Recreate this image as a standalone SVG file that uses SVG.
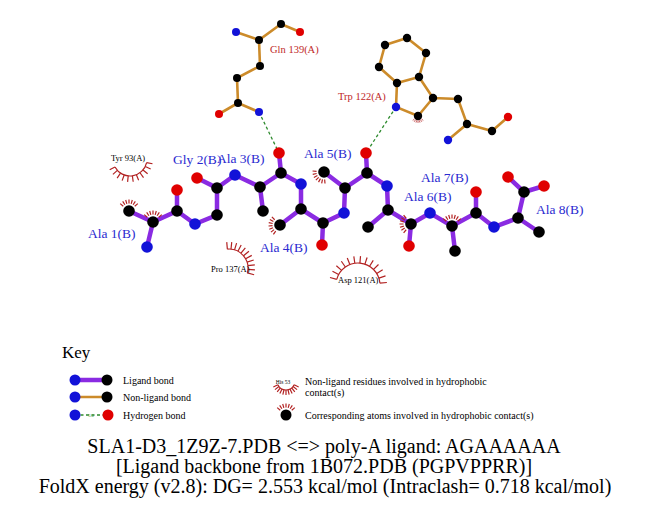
<svg xmlns="http://www.w3.org/2000/svg" xmlns:xlink="http://www.w3.org/1999/xlink" width="651" height="511" viewBox="0 0 651 511">
<style>
.lb{stroke:#8A2BE2;stroke-width:4.5;stroke-linecap:round;fill:none}
.nb{stroke:#CC8B2A;stroke-width:2.6;stroke-linecap:round;fill:none}
.hb{stroke:#2E8B2E;stroke-width:1.3;stroke-dasharray:3 2.5;fill:none}
.hp{stroke:#B22222;stroke-width:1.2;fill:none}
.C{fill:#000}
.N{fill:#1212D8}
.O{fill:#E00000}
.rl{font-family:"Liberation Serif",serif;font-size:13.5px;fill:#2A2AD0}
.pl{font-family:"Liberation Serif",serif;font-size:10.5px;fill:#C02828}
.hl{font-family:"Liberation Serif",serif;font-size:8.5px;fill:#000}
.kt{font-family:"Liberation Serif",serif;font-size:10px;fill:#000}
.tt{font-family:"Liberation Serif",serif;font-size:20px;fill:#000;text-anchor:middle}
</style>
<defs>
<path id="sp" class="hp" d="M-5.74,-4.82L-8.81,-7.39M-4.12,-6.27L-6.31,-9.61M-2.15,-7.18L-3.3,-11.02M0,-7.5L0,-11.5M2.15,-7.18L3.3,-11.02M4.12,-6.27L6.31,-9.61M5.74,-4.82L8.81,-7.39"/>
</defs>
<rect width="651" height="511" fill="#fff"/>

<g id="connectors">
<!-- Gln 139 -->
<path class="nb" d="M236,32L259,40L281,24L300,32M259,40L260,66L237,78L238,103L219,114M238,103L259,112"/>
<!-- Trp 122 -->
<path class="nb" d="M385,45L407,38L426,53L419,77L397,83L379,67Z M419,77L433,98L418,116L396,107L397,83 M433,98L458,99L467,124L448,140 M467,124L492,131L508,117"/>
<!-- ligand -->
<path class="lb" d="M147,247L153,222L129,211M153,222L177,211L177,190M177,211L195,224L217,215L217,188L197,178M217,188L235,175L260,187L263,211M260,187L281,173L279,153M281,173L301,184L301,209L280,225M301,209L323,223L322,245M323,223L344,213L345,188L324,172M345,188L367,173L366,153M367,173L387,186L388,210L368,227M388,210L411,224L409,246M411,224L430,213L452,226L455,251M452,226L476,213L476,192M476,213L494,227L518,218L539,232M518,218L524,192L508,177M524,192L544,186"/>
<!-- hydrogen bonds -->
<path class="hb" d="M259,112L279,153"/>
<path class="hb" d="M396,107L366,153"/>
</g>

<g id="gln139">
<circle class="N" cx="236" cy="32" r="4"/>
<circle class="C" cx="259" cy="40" r="4"/>
<circle class="C" cx="281" cy="24" r="4"/>
<circle class="O" cx="300" cy="32" r="4"/>
<circle class="C" cx="260" cy="66" r="4"/>
<circle class="C" cx="237" cy="78" r="4"/>
<circle class="C" cx="238" cy="103" r="4"/>
<circle class="O" cx="219" cy="114" r="4"/>
<circle class="N" cx="259" cy="112" r="4"/>
<text class="pl" x="270" y="53">Gln 139(A)</text>
</g>

<g id="trp122">
<circle class="C" cx="385" cy="45" r="4.2"/>
<circle class="C" cx="407" cy="38" r="4.2"/>
<circle class="C" cx="426" cy="53" r="4.2"/>
<circle class="C" cx="419" cy="77" r="4.2"/>
<circle class="C" cx="397" cy="83" r="4.2"/>
<circle class="C" cx="379" cy="67" r="4.2"/>
<circle class="C" cx="433" cy="98" r="4.2"/>
<circle class="C" cx="418" cy="116" r="4.2"/>
<use xlink:href="#sp" href="#sp" transform="translate(418,116) rotate(180) scale(0.6)"/>
<circle class="N" cx="396" cy="107" r="4.2"/>
<circle class="C" cx="458" cy="99" r="4.2"/>
<circle class="C" cx="467" cy="124" r="4.2"/>
<circle class="N" cx="448" cy="140" r="4.2"/>
<circle class="C" cx="492" cy="131" r="4.2"/>
<circle class="O" cx="508" cy="117" r="4.2"/>
<text class="pl" x="338" y="100">Trp 122(A)</text>
</g>

<g id="tyr93">
<path class="hp" d="M146.63,162.54A17,17 0 0 1 114.99,166.97"/>
<path class="hp" d="M146.63,162.54L152.49,163.78M145.28,166.45L150.68,169.07M143.02,169.93L147.62,173.79M140,172.75L143.52,177.61M136.38,174.76L138.63,180.32M132.36,175.83L133.2,181.77M128.22,175.92L127.59,181.89M124.19,174.98L122.13,180.62M120.5,173.09L117.14,178.07M117.37,170.37L112.91,174.39M114.99,166.97L109.69,169.79"/>
<text class="hl" x="111" y="161">Tyr 93(A)</text>
</g>

<g id="pro137">
<path class="hp" d="M227.35,249.08A19,19 0 0 1 247.35,272.92"/>
<path class="hp" d="M227.35,249.08L226.74,242.1M231,249.1L231.73,242.13M234.55,249.84L236.59,243.14M237.91,251.22L241.19,245.04M240.95,253.24L245.35,247.8M243.55,255.78L248.92,251.28M245.63,258.79L251.75,255.39M247.07,262.13L253.73,259.97M247.87,265.68L254.82,264.83M247.96,269.33L254.95,269.82M247.35,272.92L254.12,274.73"/>
<text class="hl" x="211" y="272">Pro 137(A)</text>
</g>

<g id="asp121">
<path class="hp" d="M336.75,279.3A22,22 0 0 1 379.91,283.09"/>
<path class="hp" d="M336.75,279.3L329.99,277.49M338.64,274.57L332.48,271.25M341.59,270.37L336.37,265.72M345.37,266.98L341.35,261.25M349.86,264.56L347.27,258.06M354.83,263.22L353.82,256.29M359.91,263.09L360.52,256.12M364.91,264.12L367.11,257.48M369.57,266.28L373.25,260.32M373.55,269.45L378.5,264.5M376.72,273.43L382.68,269.75M378.88,278.09L385.52,275.89M379.91,283.09L386.88,282.48"/>
<text class="hl" x="338" y="283">Asp 121(A)</text>
</g>

<g id="ala1">
<use xlink:href="#sp" href="#sp" transform="translate(129,211)"/>
<use xlink:href="#sp" href="#sp" transform="translate(153,222)"/>
<circle class="N" cx="147" cy="247" r="5.8"/>
<circle class="C" cx="153" cy="222" r="5.8"/>
<circle class="C" cx="129" cy="211" r="5.8"/>
<circle class="C" cx="177" cy="211" r="5.8"/>
<circle class="O" cx="177" cy="190" r="5.8"/>
<text class="rl" x="88" y="238">Ala 1(B)</text>
</g>

<g id="gly2">
<circle class="N" cx="195" cy="224" r="5.8"/>
<circle class="C" cx="217" cy="215" r="5.8"/>
<circle class="C" cx="217" cy="188" r="5.8"/>
<circle class="O" cx="197" cy="178" r="5.8"/>
<text class="rl" x="173" y="164">Gly 2(B)</text>
</g>

<g id="ala3">
<circle class="N" cx="235" cy="175" r="5.8"/>
<circle class="C" cx="260" cy="187" r="5.8"/>
<circle class="C" cx="263" cy="211" r="5.8"/>
<circle class="C" cx="281" cy="173" r="5.8"/>
<circle class="O" cx="279" cy="153" r="5.8"/>
<text class="rl" x="217" y="163">Ala 3(B)</text>
</g>

<g id="ala4">
<use xlink:href="#sp" href="#sp" transform="translate(280,225) rotate(-95)"/>
<circle class="N" cx="301" cy="184" r="5.8"/>
<circle class="C" cx="301" cy="209" r="5.8"/>
<circle class="C" cx="280" cy="225" r="5.8"/>
<circle class="C" cx="323" cy="223" r="5.8"/>
<circle class="O" cx="322" cy="245" r="5.8"/>
<text class="rl" x="260" y="252">Ala 4(B)</text>
</g>

<g id="ala5">
<use xlink:href="#sp" href="#sp" transform="translate(324,172) rotate(-135)"/>
<circle class="N" cx="344" cy="213" r="5.8"/>
<circle class="C" cx="345" cy="188" r="5.8"/>
<circle class="C" cx="324" cy="172" r="5.8"/>
<circle class="C" cx="367" cy="173" r="5.8"/>
<circle class="O" cx="366" cy="153" r="5.8"/>
<text class="rl" x="304" y="158">Ala 5(B)</text>
</g>

<g id="ala6">
<use xlink:href="#sp" href="#sp" transform="translate(411,224) rotate(-90)"/>
<circle class="N" cx="387" cy="186" r="5.8"/>
<circle class="C" cx="388" cy="210" r="5.8"/>
<circle class="C" cx="368" cy="227" r="5.8"/>
<circle class="C" cx="411" cy="224" r="5.8"/>
<circle class="O" cx="409" cy="246" r="5.8"/>
<text class="rl" x="404" y="201">Ala 6(B)</text>
</g>

<g id="ala7">
<use xlink:href="#sp" href="#sp" transform="translate(452,226)"/>
<circle class="N" cx="430" cy="213" r="5.8"/>
<circle class="C" cx="452" cy="226" r="5.8"/>
<circle class="C" cx="455" cy="251" r="5.8"/>
<circle class="C" cx="476" cy="213" r="5.8"/>
<circle class="O" cx="476" cy="192" r="5.8"/>
<text class="rl" x="421" y="182">Ala 7(B)</text>
</g>

<g id="ala8">
<circle class="N" cx="494" cy="227" r="5.8"/>
<circle class="C" cx="518" cy="218" r="5.8"/>
<circle class="C" cx="539" cy="232" r="5.8"/>
<circle class="C" cx="524" cy="192" r="5.8"/>
<circle class="O" cx="508" cy="177" r="5.8"/>
<circle class="O" cx="544" cy="186" r="5.8"/>
<text class="rl" x="536" y="214">Ala 8(B)</text>
</g>

<g id="key">
<text x="62" y="358" style="font-family:'Liberation Serif',serif;font-size:17px">Key</text>
<line class="lb" x1="75" y1="380" x2="107" y2="380"/>
<circle class="N" cx="75" cy="380" r="5.5"/>
<circle class="C" cx="107" cy="380" r="5.5"/>
<text class="kt" x="123" y="383.5">Ligand bond</text>
<line class="nb" x1="75" y1="397" x2="107" y2="397"/>
<circle class="N" cx="75" cy="397" r="5.5"/>
<circle class="C" cx="107" cy="397" r="5.5"/>
<text class="kt" x="123" y="400.5">Non-ligand bond</text>
<line class="hb" x1="75" y1="415" x2="108" y2="415"/>
<circle class="N" cx="75" cy="415" r="5.5"/>
<circle class="O" cx="108" cy="415" r="5.5"/>
<text x="91" y="416.5" style="font-family:'Liberation Serif',serif;font-size:4.5px;fill:#2E8B2E;text-anchor:middle">3.0</text>
<text class="kt" x="123" y="418.5">Hydrogen bond</text>
<path class="hp" d="M294.15,384.81A9,9 0 0 1 277.85,384.81"/>
<path class="hp" d="M294.15,384.81L298.68,386.92M293.09,386.54L297.03,389.62M291.66,387.99L294.81,391.88M289.94,389.09L292.13,393.59M288.03,389.77L289.15,394.64M286,390L286,395M283.97,389.77L282.85,394.64M282.06,389.09L279.87,393.59M280.34,387.99L277.19,391.88M278.91,386.54L274.97,389.62M277.85,384.81L273.32,386.92"/>
<text x="283" y="384" style="font-family:'Liberation Serif',serif;font-size:5.5px;fill:#000;text-anchor:middle">His 53</text>
<text class="kt" x="305" y="384.5">Non-ligand residues involved in hydrophobic</text>
<text class="kt" x="305" y="395.5">contact(s)</text>
<use xlink:href="#sp" href="#sp" transform="translate(286,415)"/>
<circle class="C" cx="286" cy="415" r="5.5"/>
<text class="kt" x="305" y="418.5">Corresponding atoms involved in hydrophobic contact(s)</text>
</g>

<g id="title">
<text class="tt" x="324" y="453">SLA1-D3_1Z9Z-7.PDB &lt;=&gt; poly-A ligand: AGAAAAAA</text>
<text class="tt" x="324" y="473">[Ligand backbone from 1B072.PDB (PGPVPPRR)]</text>
<text class="tt" x="325" y="493">FoldX energy (v2.8): DG= 2.553 kcal/mol (Intraclash= 0.718 kcal/mol)</text>
</g>
</svg>
